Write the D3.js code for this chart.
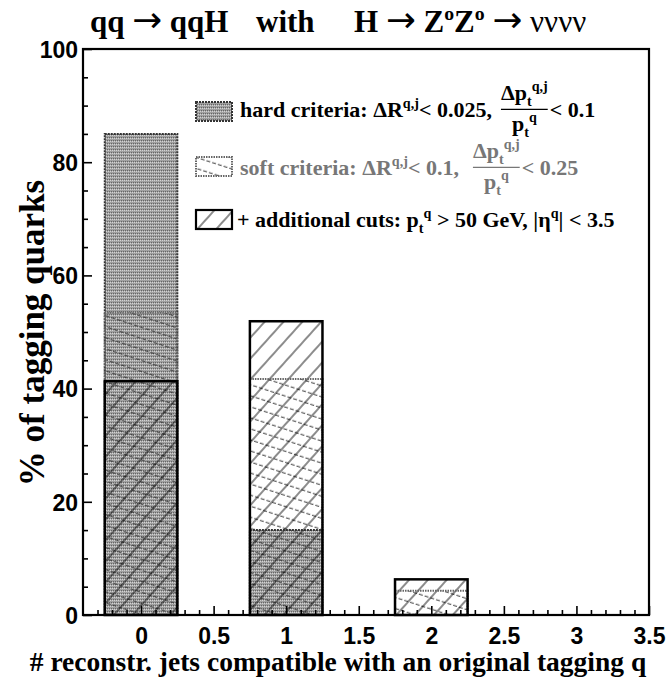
<!DOCTYPE html>
<html><head><meta charset="utf-8">
<script src="https://cdn.jsdelivr.net/npm/d3@7"></script>
<style>body{margin:0;background:#fff}</style>
</head><body>
<svg id="chart" width="666" height="679"></svg>
<script>
// Fraction of tagging quarks vs. number of reconstructed jets matched to them
const categories = [0, 1, 2, 3];
const hardCriteria = [85.0, 15.0, 0, 0];
const softCriteria = [53.4, 41.7, 4.3, 0];
const additionalCuts = [41.3, 51.9, 6.3, 0];
const xTickLabels = [0, 0.5, 1, 1.5, 2, 2.5, 3, 3.5];
const yTickLabels = [0, 20, 40, 60, 80, 100];

const SERIF = "'Liberation Serif','Times New Roman',serif";
const SANS = "'Liberation Sans',Arial,sans-serif";
const ARROW = "'DejaVu Sans',sans-serif";

const svg = d3.select("#chart");
const plot = {left: 83, right: 649, top: 49, bottom: 615};
const x = d3.scaleLinear().domain([-0.4, 3.5]).range([plot.left, plot.right]);
const y = d3.scaleLinear().domain([0, 100]).range([plot.bottom, plot.top]);
const halfWidth = 0.25;

// ---- fill patterns ----
const defs = svg.append("defs");
const stip = defs.append("pattern").attr("id", "stipple")
  .attr("patternUnits", "userSpaceOnUse").attr("width", 4).attr("height", 3);
stip.append("rect").attr("width", 4).attr("height", 3).attr("fill", "#a0a0a0");
[[0,0],[2,0]].forEach(([a,b]) => stip.append("rect").attr("x", a).attr("y", b)
  .attr("width", 1).attr("height", 1).attr("fill", "#d4d4d4"));
[[1,2],[3,2]].forEach(([a,b]) => stip.append("rect").attr("x", a).attr("y", b)
  .attr("width", 1).attr("height", 1).attr("fill", "#666"));

const back = defs.append("pattern").attr("id", "backHatch")
  .attr("patternUnits", "userSpaceOnUse").attr("width", 24).attr("height", 10.5)
  .attr("patternTransform", "rotate(18)");
back.append("line").attr("x1", 0).attr("x2", 24).attr("y1", 5).attr("y2", 5)
  .attr("stroke", "#333").attr("stroke-width", 1).attr("stroke-dasharray", "4,2");

const fwd = defs.append("pattern").attr("id", "fwdHatch")
  .attr("patternUnits", "userSpaceOnUse").attr("width", 14).attr("height", 20)
  .attr("patternTransform", "rotate(42)");
fwd.append("line").attr("x1", 6).attr("x2", 6).attr("y1", 0).attr("y2", 20)
  .attr("stroke", "#000").attr("stroke-width", 0.9);

// ---- bars ----
function barRect(sel, vals) {
  return sel.selectAll(null).data(categories.map((c, i) => ({c, v: vals[i]})).filter(d => d.v > 0))
    .join("rect")
    .attr("x", d => x(d.c - halfWidth))
    .attr("width", d => x(d.c + halfWidth) - x(d.c - halfWidth))
    .attr("y", d => y(d.v))
    .attr("height", d => y(0) - y(d.v));
}
const bars = svg.append("g");
barRect(bars, hardCriteria).attr("fill", "url(#stipple)");
barRect(bars, softCriteria).attr("fill", "url(#backHatch)");
barRect(bars, additionalCuts).attr("fill", "url(#fwdHatch)");
barRect(bars, hardCriteria).attr("fill", "none").attr("stroke", "#333")
  .attr("stroke-width", 2).attr("stroke-dasharray", "2,1");
barRect(bars, softCriteria).attr("fill", "none").attr("stroke", "#666")
  .attr("stroke-width", 2).attr("stroke-dasharray", "1.5,1");
barRect(bars, additionalCuts).attr("fill", "none").attr("stroke", "#000")
  .attr("stroke-width", 2.5);

// ---- axes ----
const minorX = d3.range(-3, 35).map(k => k / 10).filter(v => Math.abs(v * 2 - Math.round(v * 2)) > 1e-6);
const minorY = d3.range(0, 101, 5).filter(v => v % 20 !== 0);

const gx = svg.append("g").attr("transform", `translate(0,${plot.bottom})`);
gx.append("g").call(d3.axisBottom(x).tickValues(minorX).tickSize(-5).tickFormat(""));
gx.append("g").call(d3.axisBottom(x).tickValues(xTickLabels).tickSize(-9).tickPadding(9)
  .tickFormat(d => String(d)));
const gy = svg.append("g").attr("transform", `translate(${plot.left},0)`);
gy.append("g").call(d3.axisLeft(y).tickValues(minorY).tickSize(-5).tickFormat(""));
gy.append("g").call(d3.axisLeft(y).tickValues(yTickLabels).tickSize(-9).tickPadding(5)
  .tickFormat(d3.format("d")));
svg.selectAll(".domain").remove();
svg.selectAll(".tick line").attr("stroke", "#000").attr("stroke-width", 1.6);
svg.selectAll(".tick text").attr("font-family", SANS).attr("font-weight", "bold")
  .attr("font-size", 23).attr("fill", "#000");
gx.selectAll(".tick text").attr("dy", "0.85em");
gy.selectAll(".tick text").attr("dy", "0.36em");

svg.append("rect").attr("x", plot.left).attr("y", plot.top)
  .attr("width", plot.right - plot.left).attr("height", plot.bottom - plot.top)
  .attr("fill", "none").attr("stroke", "#000").attr("stroke-width", 2.2);

// ---- rich text helper: segments [text, mode] with mode n / sup / sub / arr / thin ----
function rich(parent, x0, y0, size, segs, color, weight) {
  const t = parent.append("text").attr("x", x0).attr("y", y0)
    .attr("font-family", SERIF).attr("font-size", size)
    .attr("font-weight", weight || "bold").attr("fill", color || "#000");
  let off = 0;
  segs.forEach(([s, m]) => {
    const target = m === "sup" ? -0.4 * size : m === "sub" ? 0.25 * size : 0;
    const fs = (m === "sup" || m === "sub") ? size * 0.64 : m === "arr" ? size * 1.15 : size;
    const sp = t.append("tspan").attr("dy", target - off).attr("font-size", fs).text(s);
    if (m === "arr") sp.attr("font-family", ARROW).attr("font-weight", "normal");
    if (m === "thin") sp.attr("font-weight", "normal");
    off = target;
  });
  return t;
}
function fraction(parent, xs, yb, size, num, den, color) {
  const g = parent.append("g");
  const n = rich(g, xs, yb - 0.76 * size, size, num, color);
  const d = rich(g, xs, yb + 0.64 * size, size, den, color);
  const wn = n.node().getComputedTextLength(), wd = d.node().getComputedTextLength();
  const w = Math.max(wn, wd);
  n.attr("x", xs + (w - wn) / 2);
  d.attr("x", xs + (w - wd) / 2);
  g.append("line").attr("x1", xs).attr("x2", xs + w)
    .attr("y1", yb - 0.35 * size).attr("y2", yb - 0.35 * size)
    .attr("stroke", color).attr("stroke-width", 1.3);
  return xs + w;
}

// ---- legend ----
const lg = svg.append("g");
const LS = 22;
const rows = [
  {y: 102, base: 117, fill: "url(#stipple)", stroke: "#333", dash: "2,1", sw: 2},
  {y: 157, base: 175, fill: "url(#backHatch)", stroke: "#666", dash: "1.5,1", sw: 2},
  {y: 210, base: 227, fill: "url(#fwdHatch)", stroke: "#000", dash: null, sw: 2.2}
];
rows.forEach(r => {
  lg.append("rect").attr("x", 196).attr("y", r.y).attr("width", 36).attr("height", 19)
    .attr("fill", r.fill).attr("stroke", r.stroke).attr("stroke-width", r.sw)
    .attr("stroke-dasharray", r.dash);
});
const dpNum = [["Δp", "n"], ["t", "sub"], ["q,j", "sup"]];
const ptDen = [["p", "n"], ["t", "sub"], ["q", "sup"]];

let yb = rows[0].base;
let t1 = rich(lg, 240, yb, LS, [["hard criteria: ΔR", "n"], ["q,j", "sup"], ["< 0.025,", "n"]], "#000");
let xe = 240 + t1.node().getComputedTextLength() + 9;
xe = fraction(lg, xe, yb, LS, dpNum, ptDen, "#000");
rich(lg, xe + 2, yb, LS, [["< 0.1", "n"]], "#000");

yb = rows[1].base;
let t2 = rich(lg, 240, yb, LS, [["soft criteria: ΔR", "n"], ["q,j", "sup"], ["< 0.1,", "n"]], "#777");
xe = 240 + t2.node().getComputedTextLength() + 14;
xe = fraction(lg, xe, yb, LS, dpNum, ptDen, "#777");
rich(lg, xe + 2, yb, LS, [["< 0.25", "n"]], "#777");

rich(lg, 237, rows[2].base, LS, [["+ additional cuts:  p", "n"], ["t", "sub"], ["q", "sup"],
  [" > 50 GeV, |η", "n"], ["q", "sup"], ["| < 3.5", "n"]], "#000");

// ---- titles ----
const TS = 31;
rich(svg, 90, 32, TS, [["qq ", "n"], ["→", "arr"], [" qqH", "n"]], "#000");
rich(svg, 256, 32, TS, [["with", "n"]], "#000");
rich(svg, 354, 32, TS, [["H ", "n"], ["→", "arr"], [" Z", "n"], ["o", "sup"], ["Z", "n"], ["o", "sup"],
  [" ", "n"], ["→", "arr"], [" νννν", "thin"]], "#000");

svg.append("text").attr("x", 338).attr("y", 671).attr("text-anchor", "middle")
  .attr("font-family", SERIF).attr("font-weight", "bold").attr("font-size", 27.5)
  .text("# reconstr. jets compatible with an original tagging q");

svg.append("text").attr("transform", "translate(44,333) rotate(-90)")
  .attr("text-anchor", "middle").attr("font-family", SERIF)
  .attr("font-weight", "bold").attr("font-size", 35).text("% of tagging quarks");
</script>
</body></html>
